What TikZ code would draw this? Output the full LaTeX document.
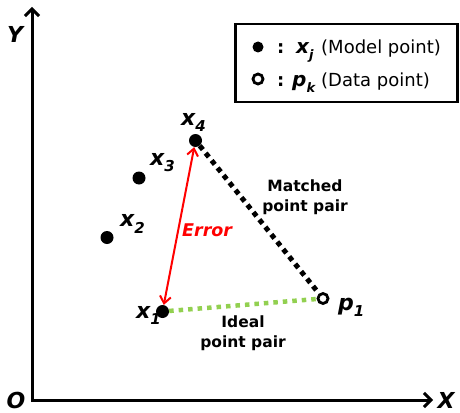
\documentclass[tikz,border=0pt]{standalone}
\usepackage{fontspec}
\setmainfont{DejaVu Sans}
\usetikzlibrary{arrows.meta}
\definecolor{idealgreen}{HTML}{92D050}
\newcommand{\vsub}[1]{\raisebox{-0.3em}{\fontsize{15}{15}\selectfont #1}}
\newcommand{\lsub}[1]{\raisebox{-0.3em}{\fontsize{13}{13}\selectfont #1}}
\newcommand{\vfont}{\fontsize{22}{22}\selectfont\bfseries\itshape}
\begin{document}
\begin{tikzpicture}[x=1pt,y=-1pt,
 dot/.style={circle,fill=black,inner sep=0pt,minimum size=13pt},
 odot/.style={circle,draw=black,line width=2.8pt,fill=white,inner sep=0pt,minimum size=10pt},
 var/.style={font=\vfont,inner sep=0pt,anchor=base west},
 legvar/.style={font=\fontsize{20}{20}\selectfont\bfseries\itshape,inner sep=0pt,anchor=base west},
 axlbl/.style={font=\fontsize{22}{22}\selectfont\bfseries\itshape,inner sep=0pt},
 lbl/.style={font=\fontsize{15.5}{20}\selectfont\bfseries,align=center,inner sep=0pt},
 legtxt/.style={font=\fontsize{18}{18}\selectfont,anchor=base west,inner sep=0pt},
 axis/.style={line width=3pt,{Straight Barb[length=7pt,width=14pt,line width=3pt]}-{Straight Barb[length=7pt,width=14pt,line width=3pt]}},
 errarrow/.style={red,line width=2pt,{Straight Barb[length=7pt,width=11pt]}-{Straight Barb[length=7pt,width=11pt]}},
 matched/.style={black,line width=5pt,dash pattern=on 5pt off 4.5pt},
 ideal/.style={idealgreen,line width=4.5pt,dash pattern=on 4.5pt off 5pt}]
\useasboundingbox (0,0) rectangle (460,412);
% axes
\coordinate (O) at (32,400);
\coordinate (Yend) at (32,7);
\coordinate (Xend) at (433,400);
\draw[axis] (Yend) -- (O) -- (Xend);
\node[axlbl] (Ylbl) at (15,34) {Y};
\node[axlbl] (Xlbl) at (446,400) {X};
\node[axlbl] (Olbl) at (16,400) {O};
% legend
\node[draw,line width=2.2pt,minimum width=222pt,minimum height=78pt,inner sep=0pt] (legend) at (346.5,63) {};
\node[dot,minimum size=11pt] (ldot) at (258,47) {};
\node[odot] (lodot) at (258,79) {};
\node[legtxt] (lc1) at (277,53) {\textbf{:}};
\node[legvar] (lxj) at (296,53) {x\lsub{j}};
\node[legtxt] (l1) at (321,53) {(Model point)};
\node[legtxt] (lc2) at (277,86) {\textbf{:}};
\node[legvar] (lpk) at (292,86) {p\lsub{k}};
\node[legtxt] (l2) at (321,86) {(Data point)};
% points
\node[dot] (x4) at (195.5,140.5) {};
\node[dot] (x3) at (139,178) {};
\node[dot] (x2) at (107,237.5) {};
\node[dot] (x1) at (162.5,311.5) {};
\node[odot] (p1) at (323,298.5) {};
% point labels
\node[var] (lx4) at (181,125) {x\vsub{4}};
\node[var] (lx3) at (150,165) {x\vsub{3}};
\node[var] (lx2) at (120,226.5) {x\vsub{2}};
\node[var] (lx1) at (136,318) {x\vsub{1}};
\node[var] (lp1) at (338,310) {p\vsub{1}};
% connectors
\draw[matched] (x4) -- (p1);
\draw[ideal] (x1) -- (p1);
\draw[errarrow] (x1) -- (x4);
% texts
\node[font=\fontsize{17.5}{17.5}\selectfont\bfseries\itshape,text=red,inner sep=0pt,anchor=base west] (err) at (182,236.5) {Error};
\node[lbl] (lmatch) at (305,197) {Matched\\point pair};
\node[lbl] (lideal) at (243,333) {Ideal\\point pair};
\end{tikzpicture}
\end{document}
